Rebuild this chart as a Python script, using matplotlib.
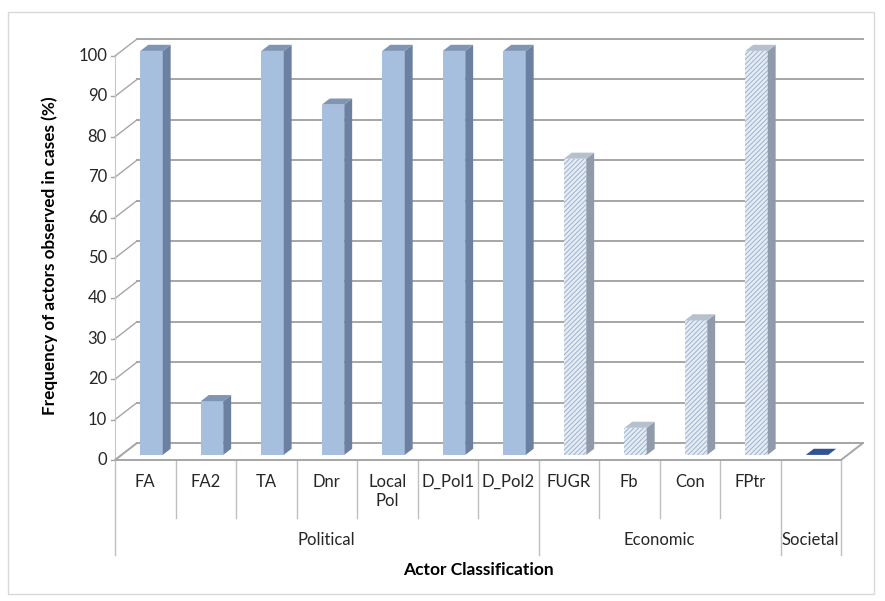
import matplotlib.pyplot as plt
from matplotlib.patches import Polygon, Rectangle

# actor frequencies (% of cases), grouped by classification
actors = ['FA', 'FA2', 'TA', 'Dnr', 'Local\nPol', 'D_Pol1', 'D_Pol2',
          'FUGR', 'Fb', 'Con', 'FPtr', '']
actor_group = [0, 0, 0, 0, 0, 0, 0, 1, 1, 1, 1, 2]
freq = [100, 13.3, 100, 86.7, 100, 100, 100, 73.3, 6.7, 33.3, 100, 0]
groups = ['Political', 'Economic', 'Societal']
yticks = list(range(0, 101, 10))

plt.rcParams['font.family'] = ['Lato', 'DejaVu Sans']
plt.rcParams['hatch.linewidth'] = 0.7

fig = plt.figure(figsize=(8.85, 6.01), dpi=100)
ax = fig.add_axes([0, 0, 1, 1])
ax.axis('off')

# one category = 60.5 px, one percent = 4.04 px; floor front edge at x=115, y=460
PX, PY = 60.5, 4.04
ax.set_xlim(-115 / PX, (885 - 115) / PX)
ax.set_ylim((460 - 601) / PY, 460 / PY)

def px_x(p):
    return (p - 115) / PX

def px_y(p):
    return (460 - p) / PY

n = len(actors)
BX, BY = 22 / PX, 17 / PY       # depth of the back wall
F0, F1 = 0.30, 0.66             # bar depth (fraction of wall depth)
BAR_L, BAR_W = 0.31, 0.37

grid_c = '#A6A6A6'

# back wall gridlines and left side wall
for v in yticks:
    ax.plot([BX, n + BX], [v + BY, v + BY], color=grid_c, lw=1.4, zorder=1)
    ax.plot([0, BX], [v, v + BY], color=grid_c, lw=1.0, zorder=1)
    ax.plot([-0.06, 0], [v, v], color=grid_c, lw=1.0, zorder=1)
    ax.text(px_x(107), v, str(v), ha='right', va='center', fontsize=12,
            color='#262626')
ax.plot([0, 0], [0, 100], color='#C8C8C8', lw=0.8, zorder=1)

# floor
floor = Polygon([(0, 0), (n, 0), (n + BX, BY), (BX, BY)], closed=True,
                facecolor='white', edgecolor=grid_c, lw=1.4, zorder=2)
ax.add_patch(floor)

styles = {
    0: dict(front='#A7BFDE', side='#6C81A1', top='#8094B4', hatch=None),
    1: dict(front='#E4ECF6', side='#8F9BAA', top='#B7C1CE', hatch='#9FB2CA'),
    2: dict(front='#2F5496', side='#2F5496', top='#2F5496', hatch=None),
}

for i, (h, g) in enumerate(zip(freq, actor_group)):
    st = styles[g]
    x0 = i + BAR_L + F0 * BX
    x1 = x0 + BAR_W
    y0 = F0 * BY
    dx, dy = (F1 - F0) * BX, (F1 - F0) * BY
    front = [(x0, y0), (x1, y0), (x1, y0 + h), (x0, y0 + h)]
    side = [(x1, y0), (x1 + dx, y0 + dy), (x1 + dx, y0 + dy + h), (x1, y0 + h)]
    top = [(x0, y0 + h), (x1, y0 + h), (x1 + dx, y0 + dy + h), (x0 + dx, y0 + dy + h)]
    if h > 0:
        ax.add_patch(Polygon(front, facecolor=st['front'], edgecolor='none', zorder=3))
        if st['hatch']:
            ax.add_patch(Polygon(front, facecolor='none', edgecolor=st['hatch'],
                                 hatch='///////', lw=0, zorder=3))
        ax.add_patch(Polygon(side, facecolor=st['side'], edgecolor='none', zorder=3))
    ax.add_patch(Polygon(top, facecolor=st['top'], edgecolor='none', zorder=3))

# category axis: actor labels and group labels
div_c = '#BFBFBF'
inner_bottom = px_y(518)
group_bottom = px_y(555)
bounds = [0]
for i in range(1, n):
    if actor_group[i] != actor_group[i - 1]:
        bounds.append(i)
bounds.append(n)
for i in range(n + 1):
    yb = group_bottom if i in bounds else inner_bottom
    ax.plot([i, i], [0, yb], color=div_c, lw=1.0, zorder=1)
for i, lab in enumerate(actors):
    ax.text(i + 0.5, px_y(474), lab, ha='center', va='top', fontsize=12,
            color='#262626', linespacing=1.25)
for k, g in enumerate(groups):
    xc = (bounds[k] + bounds[k + 1]) / 2
    ax.text(xc, px_y(540), g, ha='center', va='center', fontsize=12,
            color='#262626')

ax.text(px_x(478), px_y(570), 'Actor Classification', ha='center', va='center',
        fontsize=12.5, fontweight='bold', color='black')
ax.text(px_x(50), px_y(256), 'Frequency of actors observed in cases (%)',
        ha='center', va='center', rotation=90, fontsize=12.3,
        fontweight='bold', color='black')

# chart area border
fig.add_artist(Rectangle((8 / 885, 1 - 594 / 601), 866 / 885, 582 / 601,
                         transform=fig.transFigure, fill=False,
                         edgecolor='#D9D9D9', lw=1.0))

fig.savefig('out.png', dpi=100)
